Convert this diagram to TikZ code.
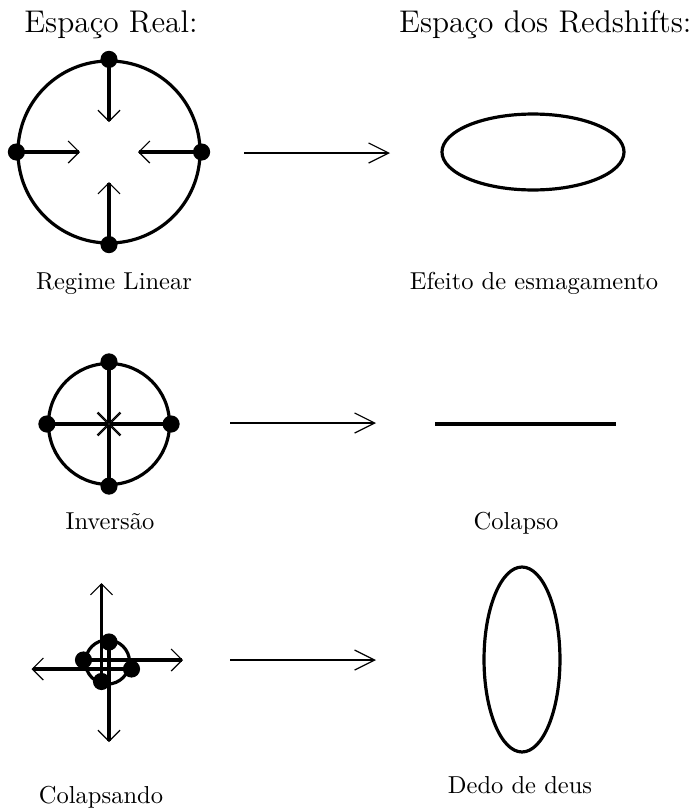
\documentclass[tikz,border=0pt]{standalone}
\usepackage{fontspec}
\usetikzlibrary{arrows.meta,shapes.geometric}
\tikzset{
  ring/.style={draw, circle, line width=1.3pt, inner sep=0pt},
  dot/.style={circle, fill=black, inner sep=0pt, minimum size=7pt},
  thkarr/.style={line width=1.3pt, -{Straight Barb[length=4.5pt,width=9pt,line width=0.5pt]}},
  mainarr/.style={line width=0.5pt, -{Straight Barb[length=8.2pt,width=8.2pt,line width=0.5pt]}},
  oval/.style={draw, ellipse, line width=1.3pt, inner sep=0pt},
  title/.style={font=\fontsize{12.8}{15.5}\selectfont},
  lab/.style={font=\normalsize, anchor=base}
}
\begin{document}
\begin{tikzpicture}[x=0.408163pt,y=-0.408163pt]
\useasboundingbox (0,0) rectangle (693,811);
% titles
\node[title, anchor=base] (t1) at (111,32) {Espaço Real:};
\node[title, anchor=base east, inner sep=0pt] (t2) at (692,32) {Espaço dos Redshifts:};
% ---- row 1: linear regime
\node[ring, minimum size=74.3pt] (c1) at (109,152) {};
\node[dot] (d1n) at (c1.north) {};
\node[dot] (d1w) at (c1.west) {};
\node[dot] (d1e) at (c1.east) {};
\node[dot] (d1s) at (c1.south) {};
\coordinate (p1n) at (109,122);
\coordinate (p1w) at (80,152);
\coordinate (p1e) at (138,152);
\coordinate (p1s) at (109,182);
\draw[thkarr] (d1n.center) -- (p1n);
\draw[thkarr] (d1w.center) -- (p1w);
\draw[thkarr] (d1e.center) -- (p1e);
\draw[thkarr] (d1s.center) -- (p1s);
\coordinate (a1s) at (244,153);
\coordinate (a1e) at (390,153);
\draw[mainarr] (a1s) -- (a1e);
\node[oval, minimum width=74.3pt, minimum height=31.0pt] (e1) at (533,152) {};
\node[lab] (l1) at (114,289) {Regime Linear};
\node[lab] (l2) at (534,289) {Efeito de esmagamento};
% ---- row 2: inversion
\node[ring, minimum size=49.4pt] (c2) at (109,424) {};
\node[dot] (d2n) at (c2.north) {};
\node[dot] (d2w) at (c2.west) {};
\node[dot] (d2e) at (c2.east) {};
\node[dot] (d2s) at (c2.south) {};
\coordinate (p2) at (109,424);
\draw[thkarr] (d2n.center) -- (p2);
\draw[thkarr] (d2w.center) -- (p2);
\draw[thkarr] (d2e.center) -- (p2);
\draw[thkarr] (d2s.center) -- (p2);
\coordinate (a2s) at (230,423);
\coordinate (a2e) at (376,423);
\draw[mainarr] (a2s) -- (a2e);
\coordinate (m2w) at (435,424);
\coordinate (m2e) at (616,424);
\draw[line width=1.3pt] (m2w) -- (m2e);
\node[lab] (l3) at (110,529) {Inversão};
\node[lab] (l4) at (516,529) {Colapso};
% ---- row 3: collapsing
\node[ring, minimum size=18pt] (c3) at (107.5,662) {};
\node[dot] (d3n) at (109,642) {};
\node[dot] (d3w) at (83.5,660) {};
\node[dot] (d3e) at (131.5,669) {};
\node[dot] (d3s) at (101.5,681.5) {};
\coordinate (p3n) at (109,742);
\coordinate (p3w) at (183,660);
\coordinate (p3e) at (31.5,669);
\coordinate (p3s) at (101.5,583);
\draw[thkarr] (d3n.center) -- (p3n);
\draw[thkarr] (d3w.center) -- (p3w);
\draw[thkarr] (d3e.center) -- (p3e);
\draw[thkarr] (d3s.center) -- (p3s);
\coordinate (a3s) at (230,660);
\coordinate (a3e) at (376,660);
\draw[mainarr] (a3s) -- (a3e);
\node[oval, minimum width=31.0pt, minimum height=75.5pt] (e3) at (522,659.5) {};
\node[lab] (l5) at (101,803) {Colapsando};
\node[lab] (l6) at (520,793) {Dedo de deus};
\end{tikzpicture}
\end{document}
